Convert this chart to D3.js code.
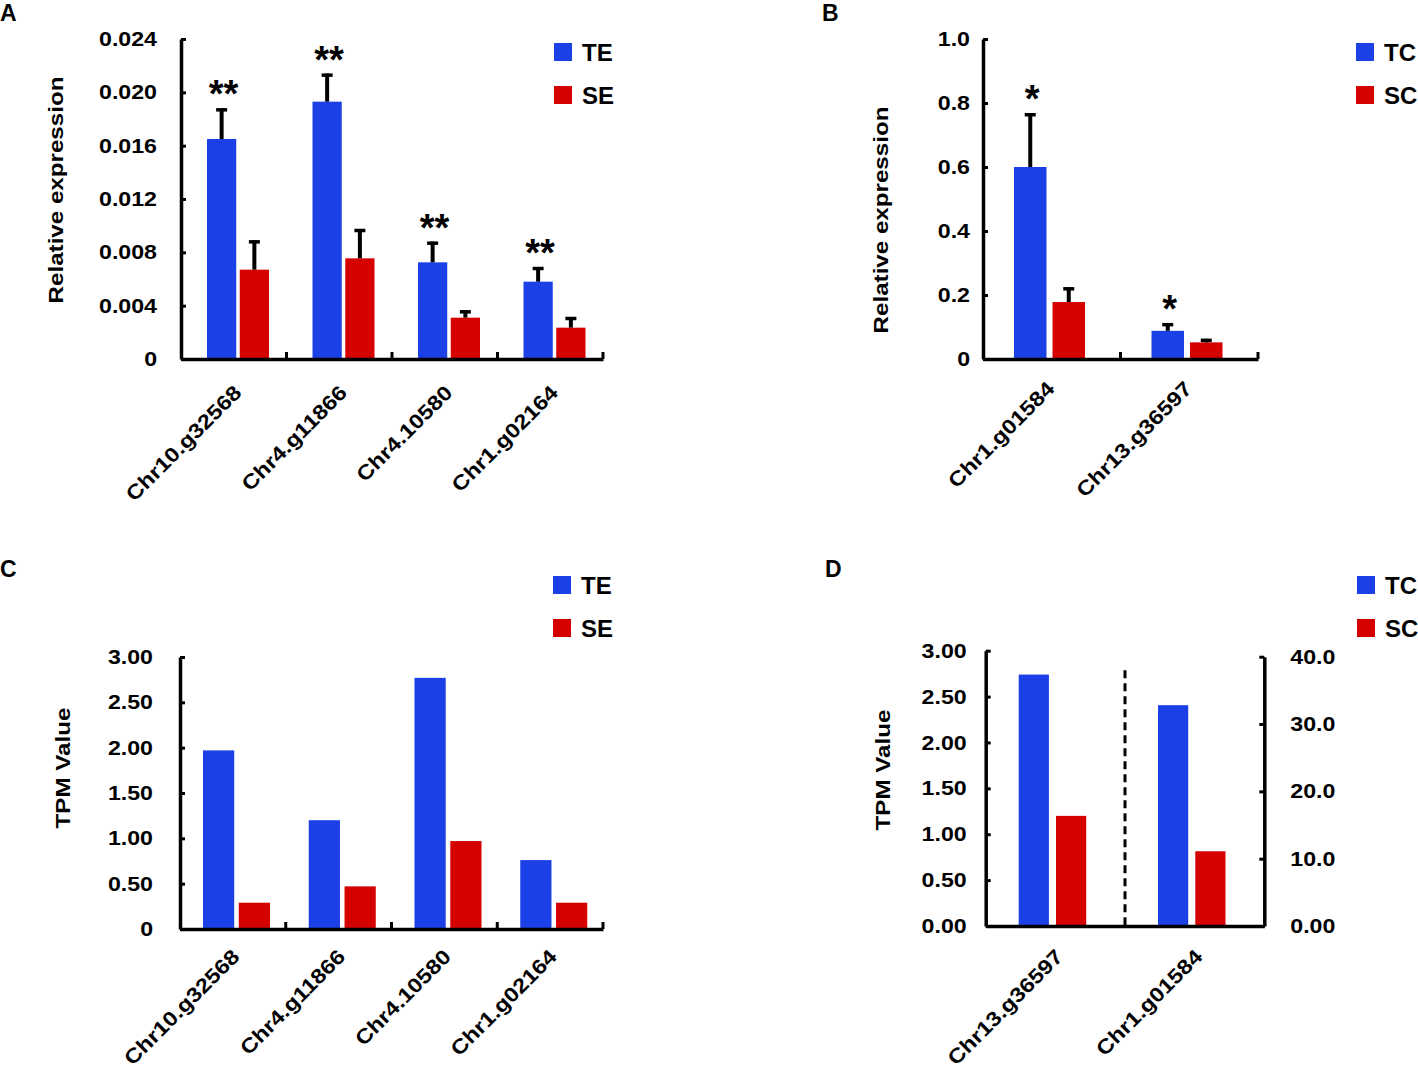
<!DOCTYPE html>
<html>
<head>
<meta charset="utf-8">
<script src="https://cdn.jsdelivr.net/npm/d3@7"></script>
<style>
  html, body { margin: 0; padding: 0; background: #fff; }
  svg { display: block; }
</style>
</head>
<body>
<script>
// ---------------- DATA ----------------
// Panel A: qRT-PCR, TE vs SE
const genesA = ["Chr10.g32568", "Chr4.g11866", "Chr4.10580", "Chr1.g02164"];
const teA = [0.0165, 0.0193, 0.00725, 0.0058];
const teAErr = [0.0023, 0.0021, 0.00155, 0.0011];
const seA = [0.0067, 0.00755, 0.0031, 0.00235];
const seAErr = [0.0022, 0.0022, 0.00055, 0.0008];
const sigA = ["**", "**", "**", "**"];
const ticksA = [0, 0.004, 0.008, 0.012, 0.016, 0.020, 0.024];
const tickLabelsA = ["0", "0.004", "0.008", "0.012", "0.016", "0.020", "0.024"];

// Panel B: qRT-PCR, TC vs SC
const genesB = ["Chr1.g01584", "Chr13.g36597"];
const tcB = [0.60, 0.088];
const tcBErr = [0.168, 0.024];
const scB = [0.178, 0.052];
const scBErr = [0.046, 0.011];
const sigB = ["*", "*"];
const ticksB = [0, 0.2, 0.4, 0.6, 0.8, 1.0];
const tickLabelsB = ["0", "0.2", "0.4", "0.6", "0.8", "1.0"];

// Panel C: TPM, TE vs SE
const genesC = ["Chr10.g32568", "Chr4.g11866", "Chr4.10580", "Chr1.g02164"];
const teC = [1.97, 1.20, 2.77, 0.76];
const seC = [0.29, 0.47, 0.97, 0.29];
const ticksC = [0, 0.5, 1.0, 1.5, 2.0, 2.5, 3.0];
const tickLabelsC = ["0", "0.50", "1.00", "1.50", "2.00", "2.50", "3.00"];

// Panel D: TPM, TC vs SC (first gene on left axis, second on right axis)
const genesD = ["Chr13.g36597", "Chr1.g01584"];
const tcD = [2.74, 32.8];
const scD = [1.20, 11.1];
const axisSideD = ["left", "right"];
const ticksDLeft = [0, 0.5, 1.0, 1.5, 2.0, 2.5, 3.0];
const tickLabelsDLeft = ["0.00", "0.50", "1.00", "1.50", "2.00", "2.50", "3.00"];
const ticksDRight = [0, 10, 20, 30, 40];
const tickLabelsDRight = ["0.00", "10.0", "20.0", "30.0", "40.0"];

// ---------------- STYLE ----------------
const FONT = "'Liberation Sans', Arial, Helvetica, sans-serif";
const BLUE = "#1a40e6";
const RED = "#d50000";

const svg = d3.select("body").append("svg")
  .attr("width", 1418).attr("height", 1068)
  .style("font-family", FONT).style("font-weight", "bold");

function stretch(sel, k) {
  sel.each(function () {
    const w = this.getComputedTextLength();
    d3.select(this).attr("textLength", w * k).attr("lengthAdjust", "spacingAndGlyphs");
  });
}

function styleAxis(g) {
  g.select(".domain").attr("stroke", "#000").attr("stroke-width", 3.5);
  g.selectAll(".tick line").attr("stroke", "#000").attr("stroke-width", 3);
  g.selectAll(".tick text").attr("fill", "#000")
    .style("font-size", "20.5px").style("font-weight", "bold").style("font-family", FONT);
  stretch(g.selectAll(".tick text"), 1.13);
}

function yAxisLeft(x, scale, ticks, labels, pad) {
  const ax = d3.axisLeft(scale).tickValues(ticks)
    .tickFormat((d, i) => labels[i]).tickSizeInner(-5).tickSizeOuter(0).tickPadding(pad);
  const g = svg.append("g").attr("transform", `translate(${x},0)`).call(ax);
  styleAxis(g);
  return g;
}
function yAxisRight(x, scale, ticks, labels, pad) {
  const ax = d3.axisRight(scale).tickValues(ticks)
    .tickFormat((d, i) => labels[i]).tickSizeInner(-5).tickSizeOuter(0).tickPadding(pad);
  const g = svg.append("g").attr("transform", `translate(${x},0)`).call(ax);
  styleAxis(g);
  return g;
}

function xAxis(xBand, y, boundaryTicks) {
  const ax = d3.axisBottom(xBand).tickSize(0).tickFormat("");
  const g = svg.append("g").attr("transform", `translate(0,${y})`).call(ax);
  g.select(".domain").attr("stroke", "#000").attr("stroke-width", 3.5);
  g.selectAll(".tick").remove();
  if (boundaryTicks) {
    g.selectAll("line.bt").data(xBand.domain()).join("line").attr("class", "bt")
      .attr("x1", d => xBand(d) + xBand.bandwidth()).attr("x2", d => xBand(d) + xBand.bandwidth())
      .attr("y1", 0).attr("y2", -7).attr("stroke", "#000").attr("stroke-width", 3);
  }
  return g;
}

function catLabels(xBand, genes, y, dx) {
  const t = svg.append("g").selectAll("text").data(genes).join("text")
    .attr("transform", d => `translate(${xBand(d) + xBand.bandwidth() / 2 + dx},${y}) rotate(-45)`)
    .attr("text-anchor", "end")
    .style("font-size", "20.5px")
    .text(d => d);
  stretch(t, 1.15);
}

function yTitle(text, x, y) {
  const t = svg.append("text")
    .attr("transform", `translate(${x},${y}) rotate(-90)`)
    .attr("text-anchor", "middle").style("font-size", "21px").text(text);
  stretch(t, 1.15);
}

function panelLetter(text, x, y) {
  svg.append("text").attr("x", x).attr("y", y).style("font-size", "23px").text(text);
}

function legend(x, y, keys, colors) {
  const g = svg.append("g");
  keys.forEach((k, i) => {
    g.append("rect").attr("x", x).attr("y", y + i * 43).attr("width", 18).attr("height", 18)
      .attr("fill", colors[i]);
    g.append("text").attr("x", x + 28).attr("y", y + i * 43 + 18)
      .style("font-size", "24px").text(k);
  });
}

function bars(xBand, inner, genes, series, yFor) {
  const g = svg.append("g");
  series.forEach(s => {
    g.selectAll(null).data(genes).join("rect")
      .attr("x", d => xBand(d) + inner(s.key))
      .attr("width", inner.bandwidth())
      .attr("y", (d, i) => yFor(i)(s.values[i]))
      .attr("height", (d, i) => yFor(i)(0) - yFor(i)(s.values[i]))
      .attr("fill", s.color);
    if (s.errs) {
      genes.forEach((d, i) => {
        const cx = xBand(d) + inner(s.key) + inner.bandwidth() / 2;
        const y0 = yFor(i)(s.values[i]);
        const y1 = yFor(i)(s.values[i] + s.errs[i]);
        g.append("line").attr("x1", cx).attr("x2", cx).attr("y1", y0).attr("y2", y1)
          .attr("stroke", "#000").attr("stroke-width", 4);
        g.append("line").attr("x1", cx - 5.5).attr("x2", cx + 5.5)
          .attr("y1", y1 + 1.5).attr("y2", y1 + 1.5)
          .attr("stroke", "#000").attr("stroke-width", 3.5);
      });
    }
  });
  return g;
}

function stars(xBand, inner, genes, key, values, errs, sig, y) {
  genes.forEach((d, i) => {
    const cx = xBand(d) + inner(key) + inner.bandwidth() / 2;
    svg.append("text").attr("x", cx + 2).attr("y", y(values[i] + errs[i]) - 1)
      .attr("text-anchor", "middle").style("font-size", "38px").text(sig[i]);
  });
}

// ---------------- PANEL A ----------------
{
  const xA = d3.scaleBand().domain(genesA).range([181, 603]).padding(0);
  const innerA = d3.scaleBand().domain(["TE", "SE"]).range([26, 88]).paddingInner(0.107);
  const yA = d3.scaleLinear().domain([0, 0.024]).range([359, 39]);
  bars(xA, innerA, genesA, [
    { key: "TE", values: teA, errs: teAErr, color: BLUE },
    { key: "SE", values: seA, errs: seAErr, color: RED }
  ], () => yA);
  stars(xA, innerA, genesA, "TE", teA, teAErr, sigA, yA);
  xAxis(xA, 359, true);
  yAxisLeft(181, yA, ticksA, tickLabelsA, 24);
  catLabels(xA, genesA, 394, 9);
  yTitle("Relative expression", 63, 190);
  panelLetter("A", 0, 21);
  legend(554, 43, ["TE", "SE"], [BLUE, RED]);
}

// ---------------- PANEL B ----------------
{
  const xB = d3.scaleBand().domain(genesB).range([983, 1258]).padding(0);
  const innerB = d3.scaleBand().domain(["TC", "SC"]).range([31, 102]).paddingInner(0.156);
  const yB = d3.scaleLinear().domain([0, 1]).range([359, 39]);
  bars(xB, innerB, genesB, [
    { key: "TC", values: tcB, errs: tcBErr, color: BLUE },
    { key: "SC", values: scB, errs: scBErr, color: RED }
  ], () => yB);
  stars(xB, innerB, genesB, "TC", tcB, tcBErr, sigB, yB);
  xAxis(xB, 359, true);
  yAxisLeft(983, yB, ticksB, tickLabelsB, 13);
  catLabels(xB, genesB, 390, 4);
  yTitle("Relative expression", 888, 220);
  panelLetter("B", 822, 21);
  legend(1356, 43, ["TC", "SC"], [BLUE, RED]);
}

// ---------------- PANEL C ----------------
{
  const xC = d3.scaleBand().domain(genesC).range([180, 603]).padding(0);
  const innerC = d3.scaleBand().domain(["TE", "SE"]).range([23, 90]).paddingInner(0.128);
  const yC = d3.scaleLinear().domain([0, 3]).range([929, 657]);
  bars(xC, innerC, genesC, [
    { key: "TE", values: teC, color: BLUE },
    { key: "SE", values: seC, color: RED }
  ], () => yC);
  xAxis(xC, 929, true);
  yAxisLeft(180, yC, ticksC, tickLabelsC, 27);
  catLabels(xC, genesC, 958, 8);
  yTitle("TPM Value", 70, 768);
  panelLetter("C", 0, 577);
  legend(553, 576, ["TE", "SE"], [BLUE, RED]);
}

// ---------------- PANEL D ----------------
{
  const xD = d3.scaleBand().domain(genesD).range([985.7, 1264.3]).padding(0);
  const innerD = d3.scaleBand().domain(["TC", "SC"]).range([33, 100.5]).paddingInner(0.19);
  const yDL = d3.scaleLinear().domain([0, 3]).range([926, 650.7]);
  const yDR = d3.scaleLinear().domain([0, 40]).range([926, 656.7]);
  const yFor = i => axisSideD[i] === "left" ? yDL : yDR;
  bars(xD, innerD, genesD, [
    { key: "TC", values: tcD, color: BLUE },
    { key: "SC", values: scD, color: RED }
  ], yFor);
  // dashed divider between the two genes
  const xSplit = xD(genesD[1]);
  svg.append("line").attr("x1", xSplit).attr("x2", xSplit)
    .attr("y1", yDR(38)).attr("y2", yDL(0))
    .attr("stroke", "#000").attr("stroke-width", 3).attr("stroke-dasharray", "8,5");
  xAxis(xD, 926, false);
  yAxisLeft(985.7, yDL, ticksDLeft, tickLabelsDLeft, 19);
  yAxisRight(1264.3, yDR, ticksDRight, tickLabelsDRight, 26);
  catLabels(xD, genesD, 958, 9);
  yTitle("TPM Value", 890, 770);
  panelLetter("D", 825, 577);
  legend(1357, 576, ["TC", "SC"], [BLUE, RED]);
}
</script>
</body>
</html>
